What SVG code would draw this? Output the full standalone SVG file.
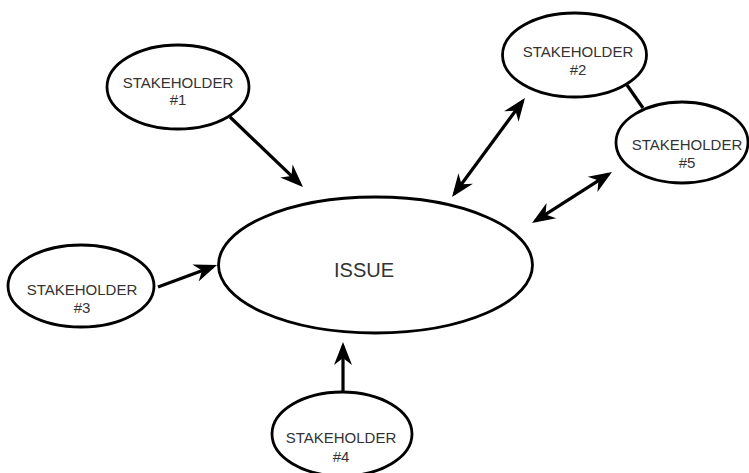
<svg xmlns="http://www.w3.org/2000/svg" width="749" height="473" viewBox="0 0 749 473">
<style>
.node ellipse{fill:#fff;stroke:#000;stroke-width:2.8}
.node text{font-family:"Liberation Sans",Arial,sans-serif;font-size:15px;fill:#333;text-anchor:middle}
#issue text{font-size:20px}
.conn line{stroke:#000;stroke-width:3.2;fill:none}
</style>
<defs>
<marker id="ah" viewBox="-22 -11 28 22" markerWidth="28" markerHeight="22" refX="0" refY="0" markerUnits="userSpaceOnUse" orient="auto-start-reverse">
<path d="M4,0 L-19,-9 L-12,0 L-19,9 Z" fill="#000"/>
</marker>
</defs>
<rect width="749" height="473" fill="#fff"/>
<g id="connectors" class="conn">
<line x1="230" y1="117" x2="300.1" y2="184.2" marker-end="url(#ah)"/>
<line x1="454.4" y1="193.8" x2="522.6" y2="101.2" marker-start="url(#ah)" marker-end="url(#ah)"/>
<line x1="535.4" y1="220.9" x2="608.6" y2="174.1" marker-start="url(#ah)" marker-end="url(#ah)"/>
<line x1="158" y1="287" x2="213.3" y2="266.4" marker-end="url(#ah)"/>
<line x1="343" y1="392" x2="343" y2="346" marker-end="url(#ah)"/>
<line x1="627" y1="85" x2="643" y2="108"/>
</g>
<g id="issue" class="node">
<ellipse cx="375.5" cy="265" rx="157" ry="68"/>
<text x="364" y="277">ISSUE</text>
</g>
<g id="stakeholder1" class="node">
<ellipse cx="178" cy="87" rx="71" ry="42"/>
<text x="178" y="88">STAKEHOLDER</text>
<text x="178" y="105">#1</text>
</g>
<g id="stakeholder2" class="node">
<ellipse cx="574.5" cy="55" rx="72" ry="42"/>
<text x="578" y="57">STAKEHOLDER</text>
<text x="578" y="75">#2</text>
</g>
<g id="stakeholder5" class="node">
<ellipse cx="682" cy="142.5" rx="66" ry="40.5"/>
<text x="687" y="150">STAKEHOLDER</text>
<text x="687" y="168">#5</text>
</g>
<g id="stakeholder3" class="node">
<ellipse cx="81" cy="286" rx="73" ry="41"/>
<text x="82" y="295">STAKEHOLDER</text>
<text x="82" y="313">#3</text>
</g>
<g id="stakeholder4" class="node">
<ellipse cx="342" cy="434" rx="70" ry="42"/>
<text x="341" y="443">STAKEHOLDER</text>
<text x="341" y="462">#4</text>
</g>
</svg>
